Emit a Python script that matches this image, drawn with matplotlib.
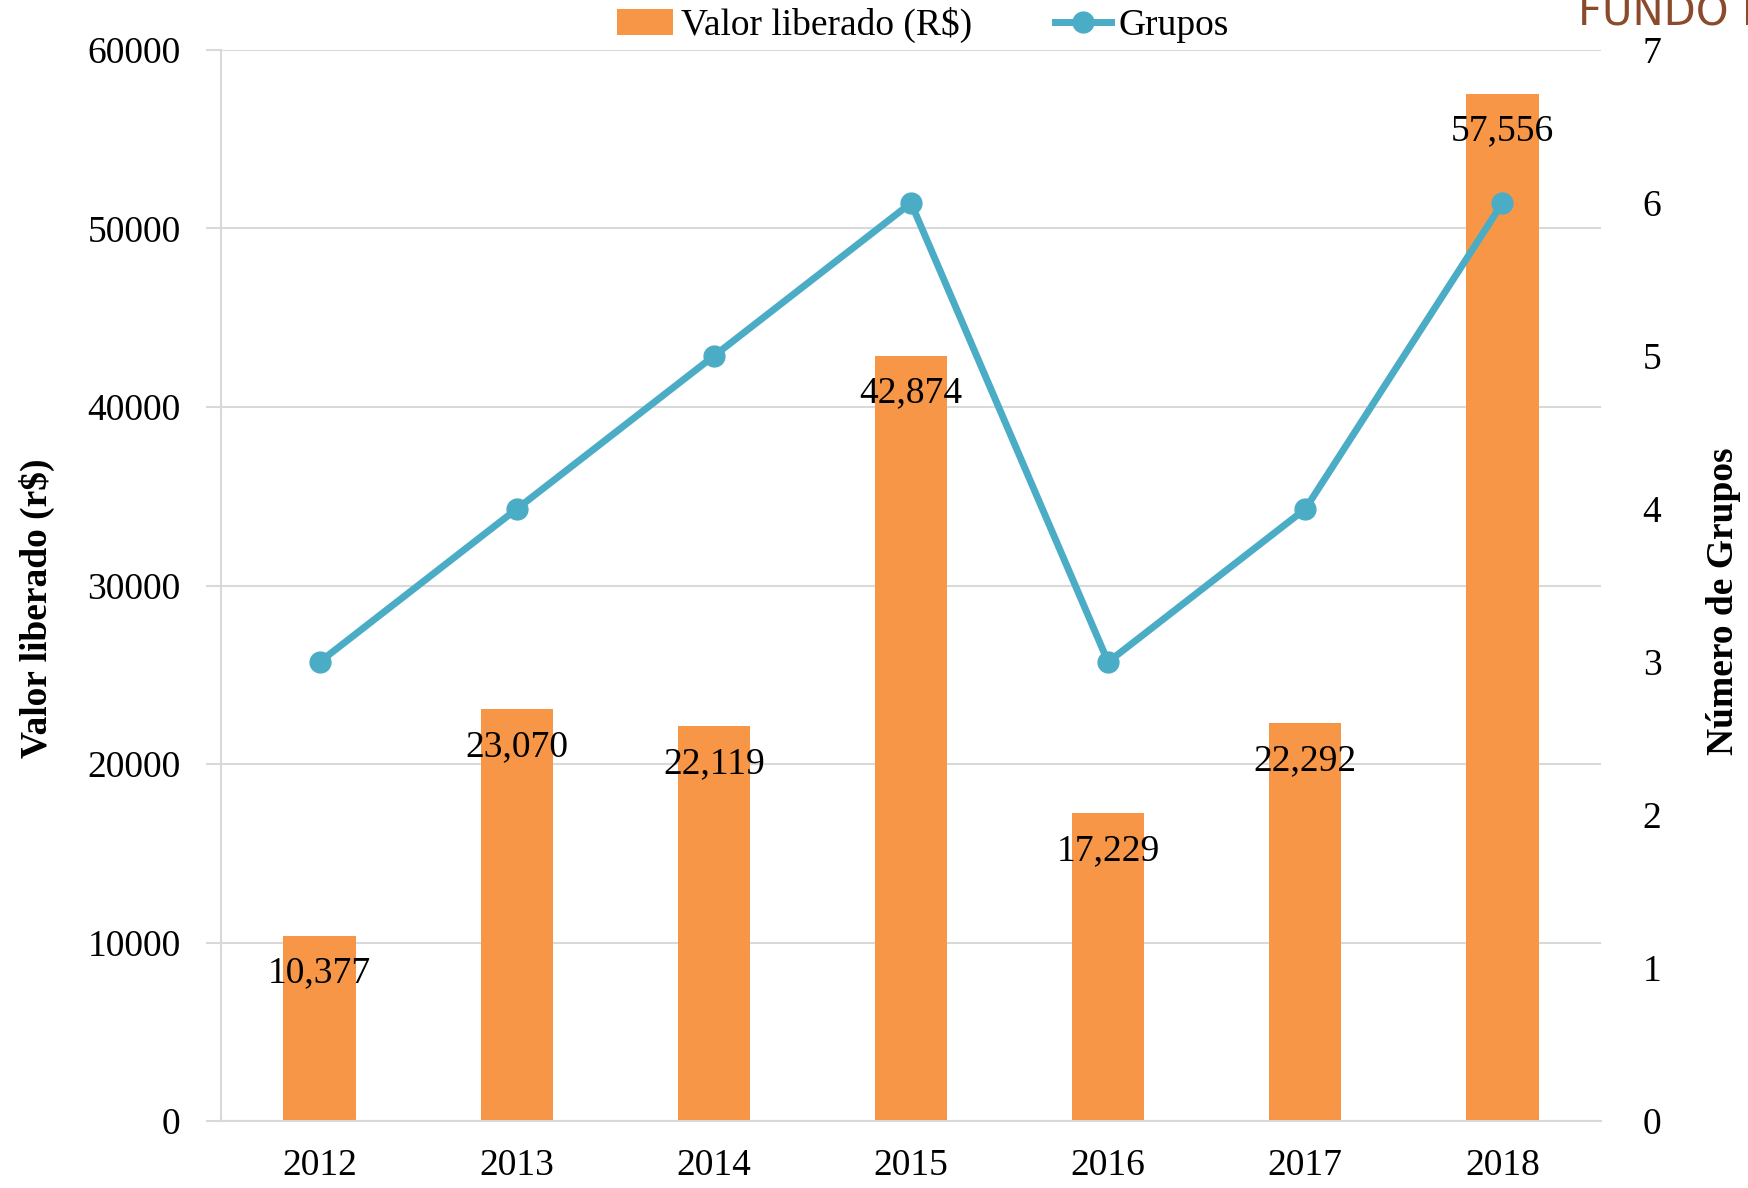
import matplotlib
matplotlib.use("Agg")
import matplotlib.pyplot as plt
from matplotlib.lines import Line2D
from matplotlib.patches import Patch

years = ["2012", "2013", "2014", "2015", "2016", "2017", "2018"]
valor_liberado = [10377, 23070, 22119, 42874, 17229, 22292, 57556]
grupos = [3, 4, 5, 6, 3, 4, 6]
left_ticks = [0, 10000, 20000, 30000, 40000, 50000, 60000]
right_ticks = [0, 1, 2, 3, 4, 5, 6, 7]

BAR_COLOR = "#F79646"
LINE_COLOR = "#4BACC6"
GRID_COLOR = "#D9D9D9"
FS = 27

plt.rcParams["font.family"] = ["Liberation Serif", "DejaVu Serif"]

fig = plt.figure(figsize=(17.49, 11.88), dpi=100)
ax = fig.add_axes([221/1749, 1-1121/1188, (1601-221)/1749, (1121-50)/1188])
ax2 = ax.twinx()

x = list(range(len(years)))
bars = ax.bar(x, valor_liberado, width=0.366, color=BAR_COLOR, zorder=2)
ax.set_xlim(-0.5, len(years) - 0.5)
ax.set_ylim(0, 60000)
ax.set_yticks(left_ticks)
ax.set_yticklabels([str(v) for v in left_ticks], fontsize=FS)
ax.set_xticks(x)
ax.set_xticklabels(years, fontsize=FS)
ax.yaxis.grid(True, color=GRID_COLOR, linewidth=1.5, zorder=0)
ax.set_axisbelow(True)
for s in ["top", "right"]:
    ax.spines[s].set_visible(False)
ax.spines["left"].set_color(GRID_COLOR)
ax.spines["left"].set_linewidth(1.5)
ax.spines["bottom"].set_color(GRID_COLOR)
ax.spines["bottom"].set_linewidth(1.5)
ax.tick_params(axis="y", length=11, width=1.5, color=GRID_COLOR, pad=18)
ax.tick_params(axis="x", length=0, pad=20)
ax.set_ylabel("Valor liberado (r$)", fontsize=FS, fontweight="bold")
ax.yaxis.set_label_coords(-0.120, 0.479)

for xi, v in zip(x, valor_liberado):
    ax.annotate(f"{v:,}", (xi, v), xytext=(0, -27), textcoords="offset points",
                ha="center", va="center", fontsize=FS, zorder=5)

ax2.plot(x, grupos, color=LINE_COLOR, linewidth=5, marker="o", markersize=15, zorder=4)
ax2.set_ylim(0, 7)
ax2.set_yticks(right_ticks)
ax2.set_yticklabels([str(v) for v in right_ticks], fontsize=FS)
ax2.tick_params(axis="y", length=0, pad=30)
for s in ["top", "right", "left", "bottom"]:
    ax2.spines[s].set_visible(False)
ax2.set_ylabel("Número de Grupos", fontsize=FS, fontweight="bold")
ax2.yaxis.set_label_coords(1.076, 0.485)

handles = [Patch(facecolor=BAR_COLOR, edgecolor="none"),
           Line2D([0], [0], color=LINE_COLOR, linewidth=5, marker="o", markersize=15)]
fig.legend(handles, ["Valor liberado (R$)", "Grupos"], loc="center",
           bbox_to_anchor=(923/1749, 1-25/1188), ncol=2, frameon=False,
           fontsize=FS, handlelength=1.5, handletextpad=0.2, columnspacing=2.2)

fig.text(1578/1749, 1-25/1188, "FUNDO ROTATIVO", color="#8B4A2B", fontsize=30,
         family=["Liberation Sans Narrow", "DejaVu Sans"],
         ha="left", va="baseline")

fig.savefig("out.png", dpi=100)
